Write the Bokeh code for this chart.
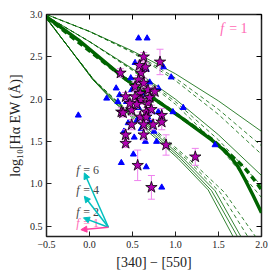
from bokeh.plotting import figure
from bokeh.models import (ColumnDataSource, Arrow, NormalHead, LinearAxis, Range1d,
                          FixedTicker, CustomJSTickFormatter)
from bokeh.core.properties import value
from bokeh.embed import file_html
from bokeh.resources import INLINE

# ---------------- data ----------------
# model tracks  (x = [340]-[550], y = log10 Halpha EW)
thin_a_x = [-0.5, 0.0, 0.5, 1.0, 1.5, 2.0]
thin_a_y = [3.00, 2.80, 2.57, 2.30, 1.98, 1.62]
thin_b_x = [-0.5, 0.0, 0.5, 1.0, 1.5, 2.0]
thin_b_y = [2.98, 2.68, 2.36, 2.00, 1.58, 1.10]
dash_a1_y = [3.00, 2.80, 2.56, 2.25, 1.88, 1.45]
dash_a2_y = [3.00, 2.80, 2.55, 2.22, 1.82, 1.35]
dash_b1_y = [2.98, 2.68, 2.35, 1.97, 1.52, 0.98]
dash_b2_y = [2.98, 2.68, 2.34, 1.94, 1.45, 0.84]

thick_x = [-0.5, -0.13, 0.39, 1.03, 1.42, 1.55, 1.65, 1.73, 1.81, 1.90, 2.0]
thick_y = [2.97, 2.70, 2.26, 1.81, 1.52, 1.41, 1.31, 1.20, 1.05, 0.87, 0.66]
thick_d_x = [-0.5, 0.39, 1.03, 1.42, 1.59, 1.72, 1.81, 1.90, 1.96, 2.0]
thick_d_y = [2.97, 2.26, 1.81, 1.53, 1.38, 1.27, 1.18, 1.07, 0.99, 0.93]

low1_x = [-0.5, 0.04, 0.30, 0.57, 1.03, 1.38, 1.67]
low1_y = [2.96, 2.23, 1.95, 1.72, 1.30, 0.93, 0.38]
low2_x = [-0.5, 0.04, 0.31, 0.60, 1.06, 1.42, 1.72]
low2_y = [2.96, 2.23, 1.95, 1.72, 1.30, 0.92, 0.38]
low3_x = [-0.5, 0.05, 0.33, 0.63, 1.09, 1.46, 1.76]
low3_y = [2.95, 2.23, 1.95, 1.72, 1.30, 0.92, 0.38]
lowd1_x = [-0.5, 0.05, 0.34, 0.65, 1.12, 1.52, 1.84]
lowd1_y = [2.95, 2.23, 1.95, 1.72, 1.30, 0.90, 0.38]
lowd2_x = [-0.5, 0.05, 0.35, 0.67, 1.15, 1.57, 1.93]
lowd2_y = [2.95, 2.23, 1.95, 1.72, 1.30, 0.90, 0.38]

# stars with errors
star_x = [0.36, 0.63, 0.82, 0.60, 0.65, 0.57, 0.63, 0.53, 0.68, 0.59, 0.76, 0.42, 0.53,
          0.60, 0.68, 0.37, 0.49, 0.66, 0.59, 0.84, 0.66, 0.49, 0.63, 0.74, 0.84, 0.42,
          0.63, 0.42, 0.89, 0.56, 0.72, 1.23, 0.39, 0.55, 0.70, 0.58, 0.47, 0.72]
star_y = [2.31, 2.50, 2.44, 2.31, 2.38, 2.23, 2.19, 2.15, 2.11, 2.07, 2.09, 2.03, 2.03,
          1.99, 1.96, 1.85, 1.87, 1.85, 1.79, 1.81, 1.79, 1.70, 1.70, 1.70, 1.73, 1.58,
          1.58, 1.48, 1.46, 1.22, 0.96, 1.32, 1.84, 1.94, 2.02, 2.40, 1.95, 1.88]
star_err = [0.05, 0.05, 0.15, 0.05, 0.05, 0.05, 0.06, 0.05, 0.05, 0.05, 0.05, 0.05, 0.06,
            0.05, 0.06, 0.05, 0.06, 0.05, 0.06, 0.08, 0.05, 0.06, 0.05, 0.06, 0.09, 0.06,
            0.06, 0.05, 0.12, 0.18, 0.14, 0.10, 0.05, 0.05, 0.05, 0.05, 0.05, 0.05]

# triangles
tri_x = [-0.13, 0.20, 0.31, 0.33, 0.53, 0.57, 0.67, 0.37, 0.51, 0.66, 0.86, 0.43, 0.49,
         0.72, 0.80, 0.97, 0.95, 1.09, 0.80, 0.66, 0.84, 1.46, 0.55, 0.60, 0.75, 0.45,
         0.57, 0.62, 0.70, 0.48, 0.40, 0.65, 0.78, 0.52, 0.70, 0.35]
tri_y = [1.81, 2.01, 2.13, 1.97, 2.43, 2.72, 2.72, 1.25, 1.35, 2.35, 2.38, 1.97, 2.11,
         1.85, 1.85, 1.85, 2.26, 1.90, 2.13, 1.20, 0.96, 1.46, 1.75, 1.65, 1.62, 1.72,
         1.90, 2.05, 2.20, 2.25, 1.62, 1.50, 1.50, 1.55, 1.75, 2.05]

# reddening vectors
vec_x0 = [0.22, 0.22, 0.22, 0.22]
vec_y0 = [0.49, 0.49, 0.49, 0.49]
vec_x1 = [-0.06, -0.06, -0.07, -0.10]
vec_y1 = [1.13, 0.855, 0.60, 0.46]
vec_label = ["= 6", "= 4", "= 2", "= 1"]
vec_label_y = [1.17, 0.925, 0.675, 0.545]
vec_colors = ["#00bfbf", "#00bfbf", "#00bfbf", "#ff3fa0"]
vec_label_colors = ["#444444", "#444444", "#444444", "#ff69b4"]

x_ticks = [-0.5, 0.0, 0.5, 1.0, 1.5, 2.0]
y_ticks = [0.5, 1.0, 1.5, 2.0, 2.5, 3.0]

# ---------------- figure ----------------
FONT = "Liberation Serif"
p = figure(frame_width=215, frame_height=222, output_backend="svg", toolbar_location=None,
           x_range=Range1d(-0.5, 2.0), y_range=Range1d(0.38, 3.0),
           min_border_left=46, min_border_right=10, min_border_top=14, min_border_bottom=36,
           x_axis_label="[340] \u2212 [550]",
           y_axis_label="log\u2081\u2080[H\u03b1 EW (\u00c5)]")
p.grid.visible = False
p.outline_line_color = "#222222"
p.outline_line_width = 1.5

fmt = CustomJSTickFormatter(code="return tick.toFixed(1).replace('-', '\u2212');")
for ax in (p.xaxis[0], p.yaxis[0]):
    ax.major_tick_in = 5
    ax.major_tick_out = 0
    ax.minor_tick_in = 0
    ax.minor_tick_out = 0
    ax.axis_line_color = None
    ax.major_tick_line_color = "#222222"
    ax.major_label_text_font = FONT
    ax.major_label_text_font_size = "10px"
    ax.major_label_text_color = "#222222"
    ax.axis_label_text_font = FONT
    ax.axis_label_text_font_size = "14px"
    ax.axis_label_text_font_style = "normal"
    ax.axis_label_text_color = "#222222"
    ax.major_label_standoff = 4
    ax.axis_label_standoff = 4
    ax.formatter = fmt
p.xaxis[0].ticker = FixedTicker(ticks=x_ticks)
p.yaxis[0].ticker = FixedTicker(ticks=y_ticks)

top = LinearAxis(ticker=FixedTicker(ticks=x_ticks), major_label_text_font_size="1px",
                 major_label_text_color=None,
                 major_tick_in=5, major_tick_out=0, minor_tick_in=0, minor_tick_out=0,
                 axis_line_color=None, major_label_standoff=0)
right = LinearAxis(ticker=FixedTicker(ticks=y_ticks), major_label_text_font_size="1px",
                   major_label_text_color=None,
                   major_tick_in=5, major_tick_out=0, minor_tick_in=0, minor_tick_out=0,
                   axis_line_color=None, major_label_standoff=0)
p.add_layout(top, "above")
p.add_layout(right, "right")

G = "#006400"
# thin solid tracks
for xs, ys in [(thin_a_x, thin_a_y), (thin_b_x, thin_b_y), (low1_x, low1_y),
               (low2_x, low2_y), (low3_x, low3_y)]:
    p.line(xs, ys, line_color=G, line_width=1, line_alpha=0.8)
# thin dashed tracks
for xs, ys in [(thin_a_x, dash_a1_y), (thin_a_x, dash_a2_y), (thin_b_x, dash_b1_y),
               (thin_b_x, dash_b2_y), (lowd1_x, lowd1_y), (lowd2_x, lowd2_y)]:
    p.line(xs, ys, line_color=G, line_width=1, line_alpha=0.8, line_dash="4 3")
# thick tracks
p.line(thick_d_x, thick_d_y, line_color=G, line_width=3.5, line_dash="6 4")
p.line(thick_x, thick_y, line_color=G, line_width=3.5)

# triangles
p.scatter(tri_x, tri_y, marker="triangle", size=6, fill_color="blue", line_color="blue")

# error bars
src = ColumnDataSource(dict(x=star_x, y=star_y,
                            lo=[y - e for y, e in zip(star_y, star_err)],
                            hi=[y + e for y, e in zip(star_y, star_err)]))
p.segment(x0="x", y0="lo", x1="x", y1="hi", source=src, line_color="#ee82ee", line_width=1)
p.scatter(x="x", y="lo", source=src, marker="dash", size=7, line_color="#ee82ee", line_width=1)
p.scatter(x="x", y="hi", source=src, marker="dash", size=7, line_color="#ee82ee", line_width=1)
p.scatter(x="x", y="y", source=src, marker="star", size=12, fill_color="#b000b0",
          line_color="black", line_width=0.8)

# vectors
for i in range(4):
    p.add_layout(Arrow(end=NormalHead(size=6, fill_color=vec_colors[i], line_color=vec_colors[i]),
                       x_start=vec_x0[i], y_start=vec_y0[i], x_end=vec_x1[i], y_end=vec_y1[i],
                       line_color=vec_colors[i], line_width=1.5))

lab = ColumnDataSource(dict(x=[-0.155] * 4, y=vec_label_y, t=vec_label, c=vec_label_colors,
                            f=["f"] * 4))
p.text(x="x", y="y", text="f", source=lab, text_color="c", text_font=value(FONT),
       text_font_style="italic", text_font_size="12px", text_baseline="middle", text_align="left")
p.text(x="x", y="y", text="t", source=lab, text_color="c", text_font=value(FONT),
       text_font_size="12px", text_baseline="middle", text_align="left", x_offset=7)

p.text(x=[1.52], y=[2.83], text=["f"], text_color="#ff69b4", text_font=value(FONT),
       text_font_style="italic", text_font_size="14px", text_baseline="middle")
p.text(x=[1.52], y=[2.83], text=["= 1"], text_color="#ff69b4", text_font=value(FONT),
       text_font_size="14px", text_baseline="middle", x_offset=9)

open("out.html", "w").write(file_html(p, INLINE))
